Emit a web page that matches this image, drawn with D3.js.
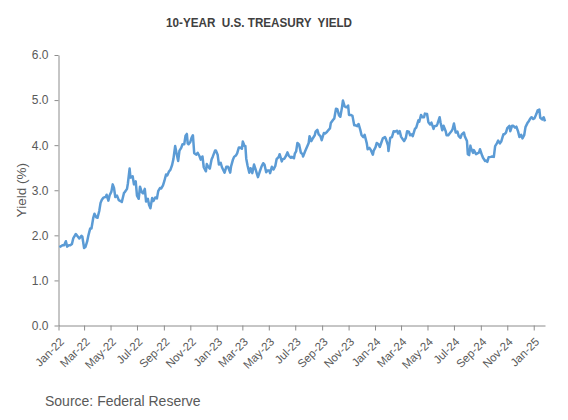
<!DOCTYPE html>
<html>
<head>
<meta charset="utf-8">
<script src="https://cdn.jsdelivr.net/npm/d3@7"></script>
<style>
  html, body { margin: 0; padding: 0; background: #fff; }
  svg { display: block; }
  text { font-family: "Liberation Sans", Arial, sans-serif; }
</style>
</head>
<body>
<svg id="chart" width="568" height="420"></svg>
<script>
// ---- Data (10-year U.S. Treasury yield, %) ----
const dates2022 = ["2022-01-03","2022-01-07","2022-01-10","2022-01-14","2022-01-18","2022-01-21","2022-01-25","2022-01-28","2022-02-01","2022-02-04","2022-02-10","2022-02-14","2022-02-18","2022-02-23","2022-02-25","2022-03-01","2022-03-04","2022-03-08","2022-03-11","2022-03-15","2022-03-18","2022-03-22","2022-03-25","2022-03-29","2022-04-01","2022-04-05","2022-04-08","2022-04-11","2022-04-14","2022-04-18","2022-04-20","2022-04-22","2022-04-26","2022-04-29","2022-05-03","2022-05-06","2022-05-09","2022-05-12","2022-05-16","2022-05-20","2022-05-24","2022-05-27","2022-06-01","2022-06-03","2022-06-08","2022-06-10","2022-06-14","2022-06-16","2022-06-21","2022-06-24","2022-06-28","2022-07-01","2022-07-05","2022-07-08","2022-07-12","2022-07-15","2022-07-19","2022-07-22","2022-07-26","2022-07-29","2022-08-01","2022-08-05","2022-08-08","2022-08-12","2022-08-16","2022-08-19","2022-08-23","2022-08-26","2022-08-30","2022-09-02","2022-09-06","2022-09-09","2022-09-13","2022-09-16","2022-09-20","2022-09-23","2022-09-27","2022-09-30","2022-10-04","2022-10-07","2022-10-11","2022-10-14","2022-10-18","2022-10-21","2022-10-24","2022-10-26","2022-10-28","2022-11-01","2022-11-04","2022-11-07","2022-11-10","2022-11-15","2022-11-18","2022-11-22","2022-11-25","2022-11-29","2022-12-02","2022-12-07","2022-12-09","2022-12-13","2022-12-16","2022-12-20","2022-12-23","2022-12-28","2022-12-30"];
const yields2022 = [1.74,1.76,1.78,1.78,1.87,1.75,1.78,1.78,1.81,1.93,2.03,1.98,1.93,1.99,1.97,1.72,1.74,1.86,2.00,2.15,2.15,2.38,2.48,2.40,2.39,2.54,2.72,2.79,2.83,2.85,2.85,2.90,2.77,2.89,2.97,3.13,3.05,2.85,2.88,2.78,2.76,2.74,2.94,2.96,3.03,3.15,3.48,3.28,3.31,3.13,3.20,2.88,2.81,3.08,2.96,2.93,3.03,2.75,2.81,2.67,2.60,2.83,2.76,2.84,2.82,2.98,3.05,3.04,3.11,3.20,3.35,3.33,3.42,3.45,3.56,3.69,3.98,3.83,3.65,3.88,3.94,4.02,4.02,4.21,4.25,4.04,4.02,4.07,4.17,4.22,3.82,3.79,3.83,3.76,3.68,3.75,3.51,3.42,3.58,3.51,3.48,3.68,3.75,3.88,3.88];

const dates2023 = ["2023-01-03","2023-01-06","2023-01-10","2023-01-13","2023-01-19","2023-01-23","2023-01-27","2023-02-01","2023-02-03","2023-02-07","2023-02-10","2023-02-14","2023-02-17","2023-02-21","2023-02-24","2023-02-28","2023-03-02","2023-03-06","2023-03-08","2023-03-10","2023-03-13","2023-03-17","2023-03-20","2023-03-24","2023-03-28","2023-03-31","2023-04-04","2023-04-06","2023-04-10","2023-04-14","2023-04-18","2023-04-21","2023-04-25","2023-04-28","2023-05-02","2023-05-04","2023-05-08","2023-05-12","2023-05-16","2023-05-19","2023-05-24","2023-05-26","2023-05-31","2023-06-02","2023-06-06","2023-06-09","2023-06-13","2023-06-16","2023-06-21","2023-06-23","2023-06-28","2023-06-30","2023-07-03","2023-07-06","2023-07-10","2023-07-14","2023-07-18","2023-07-19","2023-07-24","2023-07-28","2023-08-01","2023-08-03","2023-08-07","2023-08-11","2023-08-15","2023-08-17","2023-08-21","2023-08-24","2023-08-28","2023-08-31","2023-09-05","2023-09-08","2023-09-12","2023-09-15","2023-09-19","2023-09-21","2023-09-26","2023-09-29","2023-10-03","2023-10-06","2023-10-10","2023-10-13","2023-10-17","2023-10-19","2023-10-23","2023-10-27","2023-10-31","2023-11-02","2023-11-06","2023-11-10","2023-11-14","2023-11-17","2023-11-21","2023-11-24","2023-11-28","2023-12-01","2023-12-05","2023-12-08","2023-12-13","2023-12-15","2023-12-19","2023-12-22","2023-12-27","2023-12-29"];
const yields2023 = [3.79,3.57,3.61,3.51,3.39,3.52,3.52,3.39,3.53,3.67,3.74,3.77,3.82,3.95,3.95,3.92,4.08,3.98,3.98,3.70,3.55,3.39,3.49,3.38,3.57,3.48,3.35,3.29,3.41,3.52,3.60,3.57,3.40,3.44,3.44,3.38,3.52,3.46,3.54,3.69,3.74,3.80,3.64,3.69,3.70,3.75,3.84,3.77,3.72,3.74,3.71,3.81,3.86,4.05,4.01,3.83,3.80,3.75,3.87,3.96,4.05,4.20,4.09,4.16,4.22,4.30,4.34,4.24,4.20,4.11,4.27,4.26,4.29,4.33,4.37,4.49,4.56,4.59,4.81,4.80,4.66,4.63,4.85,4.99,4.86,4.84,4.88,4.67,4.67,4.65,4.44,4.44,4.42,4.47,4.34,4.22,4.18,4.23,4.04,3.91,3.94,3.90,3.79,3.88];

const dates2024 = ["2024-01-02","2024-01-05","2024-01-09","2024-01-12","2024-01-16","2024-01-19","2024-01-24","2024-01-26","2024-01-31","2024-02-01","2024-02-05","2024-02-09","2024-02-13","2024-02-16","2024-02-21","2024-02-23","2024-02-27","2024-03-01","2024-03-05","2024-03-08","2024-03-12","2024-03-15","2024-03-19","2024-03-22","2024-03-26","2024-03-28","2024-04-02","2024-04-05","2024-04-10","2024-04-12","2024-04-16","2024-04-19","2024-04-23","2024-04-25","2024-04-30","2024-05-03","2024-05-07","2024-05-10","2024-05-15","2024-05-17","2024-05-22","2024-05-24","2024-05-29","2024-05-31","2024-06-04","2024-06-07","2024-06-12","2024-06-14","2024-06-18","2024-06-21","2024-06-26","2024-06-28","2024-07-01","2024-07-05","2024-07-09","2024-07-12","2024-07-16","2024-07-19","2024-07-24","2024-07-26","2024-07-31","2024-08-02","2024-08-05","2024-08-08","2024-08-09","2024-08-14","2024-08-16","2024-08-21","2024-08-23","2024-08-28","2024-08-30","2024-09-04","2024-09-06","2024-09-11","2024-09-13","2024-09-16","2024-09-19","2024-09-24","2024-09-27","2024-10-01","2024-10-04","2024-10-08","2024-10-11","2024-10-15","2024-10-18","2024-10-23","2024-10-25","2024-10-29","2024-11-01","2024-11-06","2024-11-08","2024-11-12","2024-11-15","2024-11-19","2024-11-22","2024-11-26","2024-11-29","2024-12-03","2024-12-06","2024-12-10","2024-12-13","2024-12-18","2024-12-20","2024-12-24","2024-12-27","2024-12-31"];
const yields2024 = [3.95,4.05,4.02,3.96,4.07,4.15,4.18,4.14,3.99,3.87,4.16,4.18,4.31,4.30,4.32,4.26,4.31,4.19,4.13,4.09,4.16,4.31,4.30,4.22,4.24,4.20,4.36,4.39,4.55,4.52,4.67,4.62,4.62,4.70,4.69,4.51,4.46,4.50,4.36,4.42,4.43,4.47,4.62,4.51,4.33,4.43,4.31,4.22,4.22,4.26,4.32,4.36,4.48,4.28,4.30,4.20,4.16,4.24,4.28,4.20,4.09,3.80,3.78,3.99,3.94,3.83,3.89,3.80,3.81,3.84,3.91,3.77,3.72,3.65,3.66,3.63,3.73,3.74,3.75,3.74,3.98,4.04,4.10,4.04,4.08,4.24,4.24,4.28,4.38,4.43,4.31,4.43,4.43,4.39,4.41,4.30,4.18,4.23,4.15,4.22,4.40,4.50,4.52,4.59,4.62,4.58];

const dates2025 = ["2025-01-03","2025-01-07","2025-01-10","2025-01-14","2025-01-16","2025-01-21","2025-01-24","2025-01-27"];
const yields2025 = [4.60,4.69,4.77,4.79,4.61,4.57,4.62,4.53];

const yTicks = [0, 1, 2, 3, 4, 5, 6];
const titleText = "10-YEAR  U.S. TREASURY  YIELD";
const yAxisLabel = "Yield (%)";
const sourceText = "Source: Federal Reserve";

// ---- Build series ----
const parse = d3.timeParse("%Y-%m-%d");
const allDates = [].concat(dates2022, dates2023, dates2024, dates2025);
const allYields = [].concat(yields2022, yields2023, yields2024, yields2025);
const series = allDates.map((d, i) => ({ date: parse(d), value: allYields[i] }));

const svg = d3.select("#chart");
const margin = { left: 58.5, right: 545, top: 55, bottom: 325.5 };

const x = d3.scaleTime()
  .domain([parse("2022-01-01"), series[series.length - 1].date])
  .range([margin.left, margin.right]);
const y = d3.scaleLinear().domain([0, 6]).range([margin.bottom, margin.top]);

const axisColor = "#8c8c8c";
const textColor = "#595959";

// Title
svg.append("text")
  .attr("x", 259).attr("y", 26.5)
  .attr("text-anchor", "middle")
  .attr("font-size", 13.5).attr("font-weight", "bold")
  .attr("fill", "#404040")
  .attr("textLength", 186).attr("lengthAdjust", "spacingAndGlyphs")
  .style("white-space", "pre")
  .text(titleText);

// Y axis
const yAxis = svg.append("g")
  .attr("transform", `translate(${margin.left},0)`)
  .call(d3.axisLeft(y).tickValues(yTicks).tickFormat(d3.format(".1f")).tickSize(4).tickSizeOuter(0).tickPadding(6));
yAxis.select(".domain").attr("stroke", axisColor);
yAxis.selectAll(".tick line").attr("stroke", axisColor);
yAxis.selectAll(".tick text").attr("fill", textColor).attr("font-size", 12)
  .attr("font-family", "Liberation Sans, Arial, sans-serif");

// X axis
const xTicks = d3.timeMonth.every(2).range(parse("2022-01-01"), d3.timeDay.offset(series[series.length - 1].date, 1));
const xAxis = svg.append("g")
  .attr("transform", `translate(0,${margin.bottom})`)
  .call(d3.axisBottom(x).tickValues(xTicks).tickFormat(d3.timeFormat("%b-%y")).tickSize(5).tickSizeOuter(0));
xAxis.select(".domain").attr("stroke", axisColor);
xAxis.selectAll(".tick line").attr("stroke", axisColor);
xAxis.selectAll(".tick text")
  .attr("fill", textColor).attr("font-size", 11.5)
  .attr("font-family", "Liberation Sans, Arial, sans-serif")
  .attr("text-anchor", "end")
  .attr("dy", "0.35em")
  .attr("y", 0)
  .attr("transform", "translate(3,14) rotate(-45)");

// Y axis label
svg.append("text")
  .attr("transform", `translate(26,${(margin.top + margin.bottom) / 2}) rotate(-90)`)
  .attr("text-anchor", "middle")
  .attr("font-size", 13.5)
  .attr("fill", textColor)
  .text(yAxisLabel);

// Line
const line = d3.line().x(d => x(d.date)).y(d => y(d.value));
svg.append("path")
  .datum(series)
  .attr("fill", "none")
  .attr("stroke", "#5b9bd5")
  .attr("stroke-width", 2.5)
  .attr("stroke-linejoin", "round")
  .attr("d", line);

// Source
svg.append("text")
  .attr("x", 45).attr("y", 406)
  .attr("font-size", 14)
  .attr("fill", textColor)
  .text(sourceText);
</script>
</body>
</html>
